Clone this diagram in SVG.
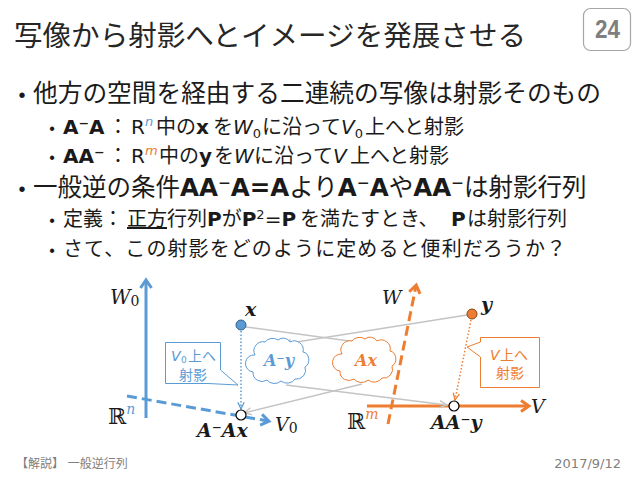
<svg xmlns="http://www.w3.org/2000/svg" width="638" height="479" viewBox="0 0 638 479">
<style>
  .jp { font-family: 'DejaVu Sans', 'Noto Sans CJK JP', sans-serif; fill: #1a1a1a; }
  .ttl { font-family: 'Noto Sans CJK JP', sans-serif; fill: #262626; }
  .blt { font-family: 'Liberation Sans', sans-serif; fill: #1a1a1a; }
  .b { font-weight: bold; }
  .i { font-style: italic; }
  .math { font-family: 'DejaVu Serif', 'Liberation Serif', serif; font-style: italic; fill: #1a1a1a; }
  .mb { font-weight: bold; }
  .up { font-style: normal; }
  .ds { font-family: 'DejaVu Serif', 'DejaVu Sans', serif; font-style: normal; fill: #1a1a1a; }
  .foot { font-family: 'DejaVu Sans', 'Noto Sans CJK JP', sans-serif; fill: #7f7f7f; }
  .cjp { font-family: 'Noto Sans CJK JP', sans-serif; }
  .lat { font-family: 'DejaVu Sans', sans-serif; }
  .gray { fill: none; stroke: #c4c4c4; stroke-width: 1.5; marker-end: url(#arrG); }
  .axB { fill: none; stroke: #5b9bd5; stroke-width: 3; }
  .axO { fill: none; stroke: #ed7d31; stroke-width: 3; }
  .cloud { fill: #fff; stroke-width: 1; }
</style>
<defs>
  <marker id="chevB" viewBox="0 0 14 14" refX="10" refY="7" markerWidth="14" markerHeight="14" markerUnits="userSpaceOnUse" orient="auto">
    <path d="M3,1.5 L11,7 L3,12.5" fill="none" stroke="#5b9bd5" stroke-width="3" stroke-dasharray="none"/>
  </marker>
  <marker id="chevO" viewBox="0 0 14 14" refX="10" refY="7" markerWidth="14" markerHeight="14" markerUnits="userSpaceOnUse" orient="auto">
    <path d="M3,1.5 L11,7 L3,12.5" fill="none" stroke="#ed7d31" stroke-width="3" stroke-dasharray="none"/>
  </marker>
  <marker id="arrG" viewBox="0 0 10 10" refX="9" refY="5" markerWidth="10" markerHeight="10" markerUnits="userSpaceOnUse" orient="auto">
    <path d="M1.5,1.5 L9,5 L1.5,8.5" fill="none" stroke="#c4c4c4" stroke-width="1.4"/>
  </marker>
  <marker id="arrB" viewBox="0 0 10 10" refX="9" refY="5" markerWidth="9" markerHeight="9" markerUnits="userSpaceOnUse" orient="auto">
    <path d="M1.5,1.5 L9,5 L1.5,8.5" fill="none" stroke="#5b9bd5" stroke-width="1.4" stroke-dasharray="none"/>
  </marker>
  <marker id="arrO" viewBox="0 0 10 10" refX="9" refY="5" markerWidth="9" markerHeight="9" markerUnits="userSpaceOnUse" orient="auto">
    <path d="M1.5,1.5 L9,5 L1.5,8.5" fill="none" stroke="#ed7d31" stroke-width="1.4" stroke-dasharray="none"/>
  </marker>
  <path id="cloudShape" d="M -23,-6 a 9,9 0 0 1 10,-13 a 9,8 0 0 1 13,-2 a 8,8 0 0 1 12,2 a 9,9 0 0 1 13,10 a 7,8 0 0 1 2,15 a 9,9 0 0 1 -10,12 a 9,8 0 0 1 -14,2 a 9,8 0 0 1 -14,-1 a 9,9 0 0 1 -14,-8 a 8,8 0 0 1 2,-17 z"/>
</defs>

<rect x="0" y="0" width="638" height="479" fill="#ffffff"/>

<g id="title">
  <text class="ttl" x="14" y="46" font-size="28" textLength="512" lengthAdjust="spacingAndGlyphs">写像から射影へとイメージを発展させる</text>
</g>

<g id="page-number">
  <rect x="583.5" y="8.5" width="47" height="42" rx="7" fill="#ffffff" stroke="#a6a6a6" stroke-width="1.2"/>
  <text x="595" y="38" font-family="'Liberation Sans', sans-serif" font-weight="bold" font-size="25" fill="#7f7f7f" textLength="25" lengthAdjust="spacingAndGlyphs">24</text>
</g>

<g id="bullets">
  <text class="blt" x="22" y="102" font-size="20" text-anchor="middle">•</text>
  <text class="jp" x="33" y="102" font-size="24.5" textLength="568" lengthAdjust="spacingAndGlyphs">他方の空間を経由する二連続の写像は射影そのもの</text>

  <text class="blt" x="52" y="134" font-size="16" text-anchor="middle">•</text>
  <text class="jp" y="134" font-size="20"><tspan x="63" class="b">A⁻A</tspan><tspan x="108">：</tspan><tspan x="131">R</tspan><tspan class="i" font-size="13" dy="-8" fill="#5b9bd5">n</tspan><tspan x="156" dy="8">中の</tspan><tspan class="b">x</tspan><tspan x="213">を</tspan><tspan class="i">W</tspan><tspan font-size="13" dy="4">0</tspan><tspan x="262" dy="-4">に沿って</tspan><tspan class="i">V</tspan><tspan font-size="13" dy="4">0</tspan><tspan x="365" dy="-4">上へと射影</tspan></text>

  <text class="blt" x="52" y="163" font-size="16" text-anchor="middle">•</text>
  <text class="jp" y="163" font-size="20"><tspan x="63" class="b">AA⁻</tspan><tspan x="108">：</tspan><tspan x="131">R</tspan><tspan class="i" font-size="13" dy="-8" fill="#ed7d31">m</tspan><tspan x="159" dy="8">中の</tspan><tspan class="b">y</tspan><tspan x="214">を</tspan><tspan class="i">W</tspan><tspan x="254">に沿って</tspan><tspan class="i">V</tspan><tspan x="350">上へと射影</tspan></text>

  <text class="blt" x="22" y="196" font-size="20" text-anchor="middle">•</text>
  <text class="jp" y="196" font-size="24.5"><tspan x="33">一般逆の条件</tspan><tspan class="b">AA⁻A=A</tspan><tspan>より</tspan><tspan class="b">A⁻A</tspan><tspan>や</tspan><tspan class="b">AA⁻</tspan><tspan>は射影行列</tspan></text>

  <text class="blt" x="52" y="226" font-size="16" text-anchor="middle">•</text>
  <text class="jp" y="226" font-size="20"><tspan x="63">定義</tspan><tspan x="103">：</tspan><tspan x="127" text-decoration="underline">正方</tspan><tspan x="167">行列</tspan><tspan class="b">P</tspan><tspan>が</tspan><tspan class="b">P</tspan><tspan font-size="13" dy="-7">2</tspan><tspan dy="7">=</tspan><tspan class="b">P</tspan><tspan x="300">を満たすとき、</tspan><tspan x="451" class="b">P</tspan><tspan x="467">は射影行列</tspan></text>

  <text class="blt" x="52" y="256" font-size="16" text-anchor="middle">•</text>
  <text class="jp" x="63" y="256" font-size="20" textLength="503" lengthAdjust="spacing">さて、この射影をどのように定めると便利だろうか？</text>
</g>

<g id="axis-W0">
  <line class="axB" x1="146" y1="418" x2="146" y2="281" marker-end="url(#chevB)"/>
</g>
<g id="axis-V0">
  <line class="axB" x1="127" y1="396" x2="268" y2="421" stroke-dasharray="10,5" marker-end="url(#chevB)"/>
</g>
<g id="axis-W">
  <line class="axO" x1="388" y1="424" x2="416" y2="286" stroke-dasharray="10,5" marker-end="url(#chevO)"/>
</g>
<g id="axis-V">
  <line class="axO" x1="367" y1="406" x2="528" y2="406" marker-end="url(#chevO)"/>
</g>

<g id="connectors">
  <line class="gray" x1="246" y1="327" x2="364" y2="343"/>
  <line class="gray" x1="467" y1="315" x2="284" y2="344"/>
  <line class="gray" x1="286" y1="385" x2="447" y2="405"/>
  <line class="gray" x1="362" y1="384" x2="244" y2="413"/>
  <line x1="241" y1="331" x2="241" y2="409" stroke="#5b9bd5" stroke-width="1.5" stroke-dasharray="1.5,2" marker-end="url(#arrB)"/>
  <line x1="471" y1="320" x2="455" y2="400" stroke="#ed7d31" stroke-width="1.5" stroke-dasharray="1.5,2" marker-end="url(#arrO)"/>
</g>

<g id="callout-V0">
  <path d="M165.5,342.5 H220.5 V370 L238,385 L208,383.5 H165.5 Z" fill="#ffffff" stroke="#5b9bd5" stroke-width="1"/>
  <text class="cjp" y="361" font-size="14" fill="#5b9bd5"><tspan x="171" class="lat" font-style="italic">V</tspan><tspan x="181" class="lat" font-size="9" dy="1.5">0</tspan><tspan x="188" dy="-1.5">上へ</tspan></text>
  <text class="cjp" x="193" y="380" font-size="14" fill="#5b9bd5" text-anchor="middle">射影</text>
</g>

<g id="callout-V">
  <path d="M480.5,337.5 H539.5 V387.5 H480.5 V357 L467,347 L480.5,342 Z" fill="#ffffff" stroke="#ed7d31" stroke-width="1"/>
  <text class="cjp" y="360" font-size="14" fill="#ed7d31"><tspan x="490" class="lat" font-style="italic">V</tspan><tspan x="500">上へ</tspan></text>
  <text class="cjp" x="510" y="378" font-size="14" fill="#ed7d31" text-anchor="middle">射影</text>
</g>

<g id="cloud-Ay">
  <use href="#cloudShape" transform="translate(278,361)" class="cloud" stroke="#5b9bd5"/>
  <text class="math mb" x="279" y="366" font-size="16" text-anchor="middle" style="fill:#5b9bd5">A⁻y</text>
</g>

<g id="cloud-Ax">
  <use href="#cloudShape" transform="translate(365,360)" class="cloud" stroke="#ed7d31"/>
  <text class="math mb" x="366" y="366" font-size="16" text-anchor="middle" style="fill:#ed7d31">Ax</text>
</g>

<g id="node-x">
  <circle cx="241" cy="325" r="5" fill="#5b9bd5" stroke="#2f5f8a" stroke-width="1"/>
  <text class="math mb" x="245" y="316" font-size="19">x</text>
</g>

<g id="node-AAx">
  <circle cx="241" cy="415" r="5" fill="#ffffff" stroke="#000000" stroke-width="1.2"/>
  <text class="math mb" x="197" y="437" font-size="19">A⁻Ax</text>
</g>

<g id="node-y">
  <circle cx="472" cy="314" r="5" fill="#ed7d31" stroke="#8a4315" stroke-width="1"/>
  <text class="math mb" x="481" y="311" font-size="19">y</text>
</g>

<g id="node-AAy">
  <circle cx="454" cy="406" r="5" fill="#ffffff" stroke="#000000" stroke-width="1.2"/>
  <text class="math mb" x="431" y="429" font-size="19">AA⁻y</text>
</g>

<g id="labels">
  <text class="math" x="110" y="304" font-size="20">W<tspan class="up" font-size="14" dy="2">0</tspan></text>
  <text class="ds" x="108" y="424" font-size="22">ℝ<tspan class="math" font-size="14" dy="-10" style="fill:#5b9bd5">n</tspan></text>
  <text class="math" x="275" y="431" font-size="19">V<tspan class="up" font-size="14" dy="2">0</tspan></text>
  <text class="math" x="382" y="304" font-size="19">W</text>
  <text class="math" x="531" y="413" font-size="19">V</text>
  <text class="ds" x="347" y="429" font-size="22">ℝ<tspan class="math" font-size="14" dy="-10" style="fill:#ed7d31">m</tspan></text>
</g>

<g id="footer">
  <text class="foot" x="16" y="468" font-size="12">【解説】 一般逆行列</text>
  <text class="foot" x="621" y="468" font-size="13" text-anchor="end">2017/9/12</text>
</g>
</svg>
